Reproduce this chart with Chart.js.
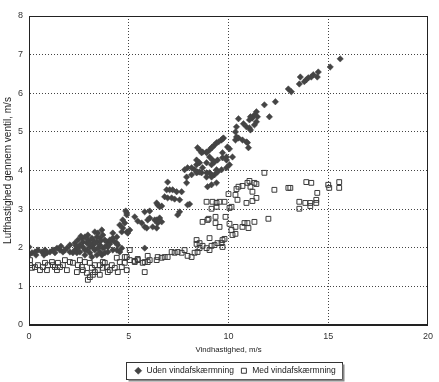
<!DOCTYPE html>
<html>
<head>
<meta charset="utf-8">
<script src="https://cdn.jsdelivr.net/npm/chart.js@4.4.1/dist/chart.umd.min.js"></script>
<style>
  html, body { margin: 0; padding: 0; background: #fff; }
  #wrap { width: 439px; height: 382px; }
</style>
</head>
<body>
<div id="wrap"><canvas id="vent"></canvas></div>
<script>
// Uden vindafskaermning (filled diamonds)
const udenX = [0.0, 0.0, 0.15, 0.3, 0.35, 0.45, 0.65, 0.75, 0.8, 0.9, 1.05, 1.2, 1.3, 1.4, 1.55, 1.7, 1.8, 1.9, 2.05, 2.2,
  2.05, 2.3, 2.3, 2.45, 2.65, 2.8, 2.95, 2.7, 2.9, 3.05, 3.2, 3.4, 3.2, 3.4, 3.55, 3.7, 3.9, 3.95, 3.7, 3.55,
  3.3, 3.05, 2.9, 2.7, 2.45, 2.4, 2.55, 2.8, 3.15, 3.4, 3.65, 3.8, 3.95, 3.3, 3.45, 3.65, 4.2, 4.4, 3.95, 4.2,
  4.4, 4.55, 4.65, 4.45, 4.15, 4.3, 4.9, 4.7, 4.65, 4.55, 4.8, 4.9, 5.3, 2.55, 2.95, 3.15, 3.3, 3.55, 3.8, 2.8,
  3.45, 3.05, 3.8, 4.05, 4.9, 4.7, 4.95, 4.2, 4.05, 4.4, 4.85, 5.05, 2.6, 3.0, 3.25, 3.6, 2.35, 1.6,
  6.95, 7.9, 8.15, 8.3, 8.45, 8.65, 6.9, 7.05, 7.2, 7.4, 6.8, 6.95, 7.15, 7.3, 7.55, 8.05, 7.55, 7.45, 6.4, 6.45,
  6.55, 6.05, 5.45, 5.65, 5.8, 5.9, 6.05, 6.4, 6.55, 6.45, 6.2, 5.8, 8.9, 9.05, 9.2, 8.4, 8.7, 9.05, 9.4, 9.15,
  9.4, 7.95, 8.95, 7.9, 8.15, 8.4, 8.9, 9.3, 9.45, 7.65, 6.65, 5.8, 5.95, 6.3, 6.65, 6.4,
  15.6, 15.1, 14.5, 14.45, 14.25, 14.15, 14.0, 13.9, 13.8, 13.6, 13.55, 13.0, 13.15, 12.35, 11.8, 12.05, 11.4, 11.3, 11.45, 11.2,
  11.05, 11.1, 11.4, 11.3, 11.05, 10.9, 11.1, 10.5, 10.75, 10.4, 10.35, 10.4, 10.35, 10.5, 10.7, 10.9, 10.95, 11.0, 9.75, 9.65,
  9.5, 9.4, 9.3, 9.2, 9.05, 8.9, 8.7, 8.55, 9.95, 10.05, 9.7, 9.9, 10.2, 8.45, 8.65, 9.15, 9.7, 8.4, 8.55, 8.9,
  9.15, 9.3, 9.45, 9.7, 9.9, 7.95, 7.8, 8.55, 8.9, 9.15, 9.65, 9.9, 10.05, 9.15];
const udenY = [2.02, 1.81, 1.87, 1.89, 1.81, 1.94, 1.89, 1.81, 1.94, 1.87, 1.89, 1.94, 1.87, 1.99, 1.94, 1.89, 1.94, 1.99, 1.89, 1.87,
  2.07, 2.12, 1.94, 2.2, 2.25, 2.28, 2.33, 2.15, 2.12, 2.02, 2.07, 2.15, 2.2, 2.28, 2.25, 2.33, 2.15, 2.07, 1.99, 1.89,
  1.94, 1.87, 1.94, 2.02, 1.99, 1.87, 1.89, 1.81, 1.76, 1.81, 1.81, 1.87, 1.89, 2.41, 2.38, 2.46, 2.38, 2.28, 2.02, 1.94,
  1.94, 1.89, 1.99, 2.07, 2.2, 2.15, 2.41, 2.51, 2.41, 2.59, 2.64, 2.85, 2.8, 2.07, 2.2, 2.25, 2.12, 2.07, 2.2, 1.94,
  1.99, 2.12, 2.02, 2.1, 2.9, 2.72, 2.38, 2.25, 2.2, 2.12, 2.95, 2.46, 2.3, 2.1, 1.98, 2.18, 2.05, 2.04,
  3.7, 3.68, 4.07, 4.02, 3.96, 3.94, 3.5, 3.5, 3.5, 3.45, 3.32, 3.29, 3.29, 3.26, 3.24, 3.13, 2.93, 2.85, 3.16, 3.11,
  3.06, 2.95, 2.69, 2.64, 2.54, 2.51, 2.77, 2.72, 2.77, 2.64, 2.54, 1.99, 4.46, 4.35, 4.27, 4.15, 4.07, 3.94, 4.02, 3.63,
  3.68, 3.11, 3.58, 3.83, 3.89, 3.94, 3.83, 3.89, 3.96, 3.45, 3.08, 2.93, 2.72, 2.72, 2.67, 2.51,
  6.89, 6.68, 6.55, 6.42, 6.48, 6.42, 6.4, 6.35, 6.3, 6.42, 6.24, 6.11, 6.04, 5.78, 5.7, 5.39, 5.52, 5.44, 5.39, 5.36,
  5.31, 5.39, 5.26, 5.18, 5.1, 5.13, 5.05, 5.34, 5.21, 5.13, 5.0, 4.87, 4.79, 4.84, 4.79, 4.74, 4.72, 4.59, 4.84, 4.79,
  4.74, 4.72, 4.66, 4.61, 4.53, 4.48, 4.48, 4.53, 4.61, 4.56, 4.46, 4.35, 4.35, 4.59, 4.46, 4.59, 4.82, 4.27, 4.2, 4.2,
  4.15, 4.22, 4.27, 4.33, 4.27, 4.07, 4.02, 3.96, 3.94, 3.89, 4.02, 4.07, 4.15, 3.83];

// Med vindafskaermning (open squares)
const medX = [0.05, 0.15, 0.3, 0.45, 0.55, 0.7, 0.8, 0.95, 1.15, 1.2, 1.4, 1.45, 1.7, 1.9, 2.05, 2.2, 2.4, 2.45, 2.65, 2.7,
  2.9, 2.95, 3.05, 3.15, 3.3, 3.45, 3.55, 3.7, 3.9, 3.95, 4.15, 4.3, 4.45, 4.65, 4.8, 4.9, 4.55, 3.7, 2.8, 5.3,
  5.45, 5.8, 5.95, 5.8, 4.9, 5.05, 4.8, 4.4, 1.55, 3.3, 3.05, 3.55, 2.55, 4.05, 0.9, 1.8, 3.2, 3.8, 0.05, 1.3,
  5.05, 5.3, 5.45, 5.7, 5.95, 6.05, 6.4, 6.45, 6.65, 6.8, 6.95, 7.15, 7.3, 7.45, 7.65, 7.8, 7.95, 8.15, 8.3, 8.45,
  8.55, 8.4, 8.55, 8.7, 8.9, 9.05, 9.15, 9.3, 9.45, 9.65, 9.7, 9.8, 9.05, 10.15, 10.2, 10.35, 10.05, 10.35, 10.7, 10.8,
  10.95, 11.0, 11.3, 12.0, 8.7, 9.0, 9.35, 9.35, 9.55, 9.85, 8.9, 9.15, 9.2, 9.4, 9.55, 9.8, 9.4, 10.15, 10.0, 10.35,
  10.4, 10.5, 10.7, 10.95, 11.05, 11.3, 11.4, 11.1, 11.2, 11.4, 11.2, 10.9, 10.45, 11.8, 12.3, 13.0, 13.1, 13.9, 14.15, 14.45,
  15.0, 15.05, 15.55, 15.55, 13.55, 13.85, 14.1, 14.1, 14.4, 14.4, 13.55, 8.4, 9.7, 8.95, 10.05];
const medY = [1.55, 1.48, 1.5, 1.55, 1.42, 1.5, 1.61, 1.55, 1.63, 1.55, 1.42, 1.61, 1.55, 1.42, 1.63, 1.61, 1.37, 1.55, 1.5, 1.42,
  1.35, 1.17, 1.24, 1.48, 1.55, 1.42, 1.3, 1.48, 1.5, 1.37, 1.55, 1.48, 1.37, 1.5, 1.61, 1.42, 1.63, 1.63, 1.63, 1.63,
  1.68, 1.63, 1.63, 1.37, 1.76, 1.94, 1.76, 1.74, 1.5, 1.37, 1.61, 1.55, 1.68, 1.42, 1.42, 1.68, 1.3, 1.61, 1.68, 1.5,
  1.68, 1.66, 1.71, 1.61, 1.79, 1.68, 1.68, 1.76, 1.74, 1.76, 1.76, 1.89, 1.87, 1.89, 1.87, 1.94, 1.79, 1.76, 1.87, 1.89,
  1.99, 2.1, 2.12, 2.05, 1.99, 1.94, 2.05, 2.07, 2.12, 2.12, 2.02, 2.23, 2.25, 2.46, 2.33, 2.36, 2.62, 2.54, 2.54, 2.64,
  2.64, 2.51, 2.67, 2.75, 2.67, 2.75, 2.8, 2.64, 2.54, 2.8, 3.19, 3.01, 3.19, 3.16, 3.19, 3.19, 3.06, 3.06, 3.39, 3.37,
  3.52, 3.58, 3.6, 3.68, 3.73, 3.68, 3.65, 3.58, 3.45, 3.29, 3.21, 3.16, 3.24, 3.94, 3.5, 3.55, 3.55, 3.7, 3.68, 3.42,
  3.63, 3.55, 3.7, 3.55, 3.19, 3.16, 3.16, 3.08, 3.24, 3.16, 3.01, 2.2, 2.2, 2.72, 3.03];

const xTicks = { min: 0, max: 20, step: 5 };
const yTicks = { min: 0, max: 8, step: 1 };
const seriesNames = ['Uden vindafskærmning', 'Med vindafskærmning'];
const xTitle = 'Vindhastighed, m/s';
const yTitle = 'Lufthastighed gennem ventil, m/s';

function toPoints(xs, ys) {
    return xs.map((x, i) => ({ x: x, y: ys[i] }));
}

const fontFam = '"Liberation Sans", Arial, sans-serif';
const gridStyle = { color: '#444', lineWidth: 1, drawTicks: false };

// box round the plot and a framed legend like the original
const framePlugin = {
    id: 'frame',
    afterLayout(chart) {
        const lg = chart.legend;
        lg.left += 20; lg.right += 20;
        lg.top += 3; lg.bottom += 3;
    },
    afterDraw(chart) {
        const ctx = chart.ctx;
        const a = chart.chartArea;
        ctx.save();
        ctx.strokeStyle = '#222';
        ctx.lineWidth = 1;
        ctx.strokeRect(Math.round(a.left) + 0.5, Math.round(a.top) + 0.5,
            Math.round(a.right - a.left) - 1, Math.round(a.bottom - a.top) - 1);

        const hb = chart.legend.legendHitBoxes;
        if (hb && hb.length) {
            const l = Math.round(hb[0].left) - 7.5;
            const last = hb[hb.length - 1];
            const r = Math.round(last.left + last.width) + 6.5;
            const t = Math.round(hb[0].top) - 4.5;
            const b = Math.round(hb[0].top + hb[0].height) + 4.5;
            ctx.strokeStyle = '#333';
            ctx.strokeRect(l, t, r - l, b - t);
            ctx.strokeStyle = '#888';
            ctx.lineWidth = 2;
            ctx.beginPath();
            ctx.moveTo(r + 1, t + 2);
            ctx.lineTo(r + 1, b + 1);
            ctx.lineTo(l + 2, b + 1);
            ctx.stroke();
        }
        ctx.restore();
    }
};

new Chart(document.getElementById('vent'), {
    type: 'scatter',
    data: {
        datasets: [
            {
                label: seriesNames[0],
                data: toPoints(udenX, udenY),
                pointStyle: 'rectRot',
                pointRadius: 3.2,
                backgroundColor: '#444',
                borderColor: '#444',
                borderWidth: 0.5,
            },
            {
                label: seriesNames[1],
                data: toPoints(medX, medY),
                pointStyle: 'rect',
                pointRadius: 3.4,
                backgroundColor: 'rgba(255,255,255,0)',
                borderColor: '#3a3a3a',
                borderWidth: 1,
            },
        ],
    },
    options: {
        responsive: true,
        maintainAspectRatio: false,
        animation: false,
        events: [],
        layout: { padding: { top: 16, right: 9, left: 0, bottom: 0 } },
        plugins: {
            tooltip: { enabled: false },
            legend: {
                position: 'bottom',
                labels: {
                    usePointStyle: true,
                    boxWidth: 8,
                    boxHeight: 5,
                    padding: 6,
                    color: '#222',
                    font: { family: fontFam, size: 8.5 },
                },
            },
        },
        scales: {
            x: {
                type: 'linear',
                min: xTicks.min,
                max: xTicks.max,
                grid: gridStyle,
                border: { display: true, color: '#222', dash: [1, 2] },
                ticks: {
                    stepSize: xTicks.step,
                    padding: 6,
                    color: '#333',
                    font: { family: fontFam, size: 9 },
                },
                title: {
                    display: true,
                    text: xTitle,
                    color: '#222',
                    padding: { top: 0, bottom: 3 },
                    font: { family: fontFam, size: 7.8 },
                },
                afterFit(scale) { scale.height = 32.5; },
            },
            y: {
                type: 'linear',
                min: yTicks.min,
                max: yTicks.max,
                grid: gridStyle,
                border: { display: true, color: '#222', dash: [1, 2] },
                ticks: {
                    stepSize: yTicks.step,
                    padding: 6,
                    color: '#333',
                    font: { family: fontFam, size: 9 },
                },
                title: {
                    display: true,
                    text: yTitle,
                    color: '#222',
                    padding: { top: 2, bottom: 0 },
                    font: { family: fontFam, size: 10 },
                },
                afterFit(scale) { scale.width = 29; },
            },
        },
    },
    plugins: [framePlugin],
});
</script>
</body>
</html>
